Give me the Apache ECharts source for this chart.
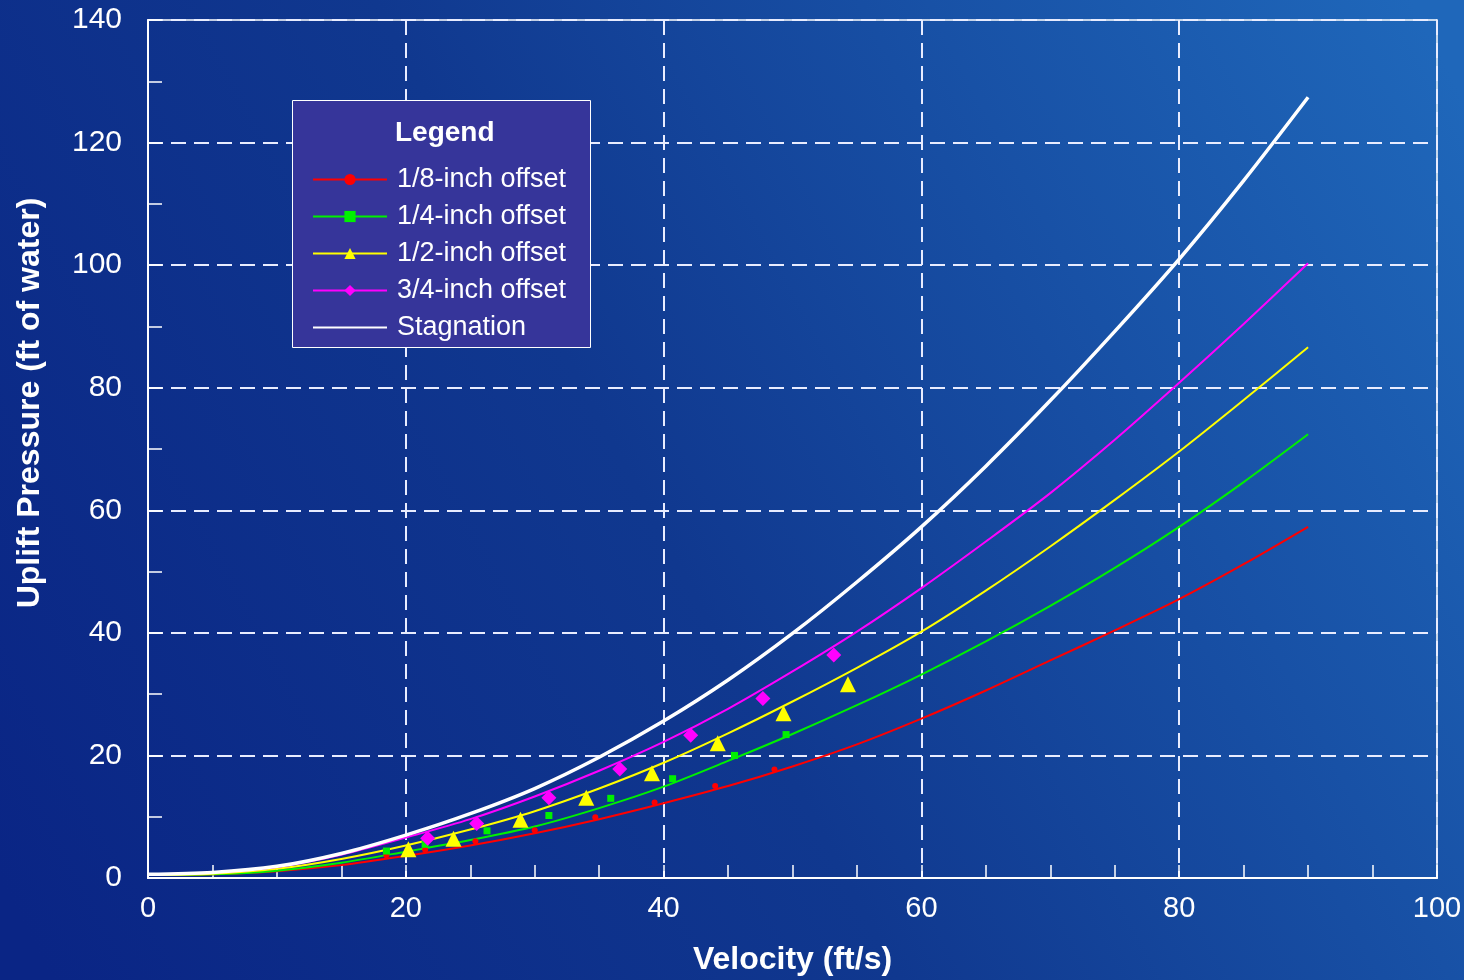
<!DOCTYPE html>
<html>
<head>
<meta charset="utf-8">
<title>Uplift Pressure vs Velocity</title>
<script src="https://cdn.jsdelivr.net/npm/echarts@6/dist/echarts.min.js"></script>
<style>
  html, body { margin: 0; padding: 0; }
  #chart { width: 1464px; height: 980px; }
</style>
</head>
<body>
<div id="chart"></div>
<script>
var velocity   = [0, 5, 10, 15, 20, 25, 30, 35, 40, 45, 50, 55, 60, 65, 70, 75, 80, 85, 90]
var calc8      = [0.5, 0.6, 1.1, 2.1, 3.6, 5.3, 7.3, 9.6, 12.2, 15.0, 18.2, 21.8, 26.0, 30.6, 35.5, 40.4, 45.5, 51.2, 57.3]
var calc4      = [0.5, 0.6, 1.2, 2.5, 4.3, 6.2, 8.4, 11.4, 14.9, 19.1, 23.5, 28.2, 33.2, 38.6, 44.4, 50.6, 57.3, 64.6, 72.4]
var calc2      = [0.5, 0.7, 1.5, 3.1, 5.3, 7.9, 10.9, 14.6, 18.8, 23.6, 28.8, 34.3, 40.2, 46.9, 54.1, 61.7, 69.6, 78.0, 86.6]
var calc34     = [0.6, 0.9, 1.8, 3.8, 6.6, 9.6, 13.3, 17.5, 22.2, 27.6, 33.7, 40.2, 47.3, 54.9, 62.8, 71.5, 80.8, 90.4, 100.3]
var stagnation = [0.6, 0.9, 1.9, 4.0, 7.0, 10.5, 14.6, 19.7, 25.6, 32.3, 39.9, 48.3, 57.3, 67.2, 77.9, 89.2, 101.0, 113.8, 127.4]

// measured points
var v8  = [18.5, 21.5, 25.4, 30.0, 34.7, 39.3, 44.0, 48.6]
var p8  = [3.7, 4.6, 6.0, 7.8, 9.9, 12.3, 15.0, 17.7]
var v4  = [18.5, 21.5, 26.3, 31.1, 35.9, 40.7, 45.5, 49.5]
var p4  = [4.4, 5.5, 7.7, 10.2, 13.0, 16.2, 20.0, 23.4]
var v2  = [20.2, 23.7, 28.9, 34.0, 39.1, 44.2, 49.3, 54.3]
var p2  = [4.7, 6.4, 9.5, 13.1, 17.1, 22.0, 26.9, 31.6]
var v34 = [21.7, 25.5, 31.1, 36.6, 42.1, 47.7, 53.2]
var p34 = [6.5, 8.9, 13.1, 17.8, 23.3, 29.3, 36.4]

var names = ['1/8-inch offset', '1/4-inch offset', '1/2-inch offset', '3/4-inch offset', 'Stagnation']
var colors = ['#ff0000', '#00f000', '#ffff00', '#ff00ff', '#ffffff']

var FONT = '"Liberation Sans", Arial, sans-serif'

function pairs(xs, ys) {
  return xs.map(function (x, i) { return [x, ys[i]] })
}

var myChart = echarts.init(document.getElementById('chart'))

var lineSeries = function (name, color, ys, symbol, width) {
  return {
    name: name,
    type: 'line',
    data: pairs(velocity, ys),
    smooth: 0.3,
    symbol: symbol,
    showSymbol: false,
    color: color,
    lineStyle: { color: color, width: width },
    z: 3
  }
}
var pointSeries = function (name, color, xs, ys, symbol, size) {
  return {
    name: name,
    type: 'scatter',
    data: pairs(xs, ys),
    symbol: symbol,
    symbolSize: size,
    itemStyle: { color: color, opacity: 1 },
    z: 4
  }
}

var option = {
  animation: false,
  backgroundColor: new echarts.graphic.LinearGradient(0, 0.9, 1, 0.1, [
    { offset: 0, color: '#0a2585' },
    { offset: 0.45, color: '#10388f' },
    { offset: 1, color: '#1f67ba' }
  ]),
  textStyle: { fontFamily: FONT },
  grid: {
    left: 148, right: 27, top: 20, bottom: 102,
    outerBoundsMode: 'none', containLabel: false,
    show: true, borderColor: '#ffffff', borderWidth: 1.5, backgroundColor: 'transparent'
  },
  graphic: [
    {
      type: 'rect', left: 292, top: 100, z: 10,
      shape: { width: 298, height: 247 },
      style: { fill: '#36359a', stroke: '#ffffff', lineWidth: 1 }
    },
    {
      type: 'text', left: 395, top: 119, z: 11,
      style: { text: 'Legend', fill: '#ffffff', font: 'bold 28px ' + FONT }
    }
  ],
  legend: {
    orient: 'vertical',
    left: 312, top: 166,
    padding: 0,
    itemWidth: 74, itemHeight: 14, itemGap: 10,
    z: 12,
    textStyle: { color: '#ffffff', fontSize: 27, fontFamily: FONT, padding: [0, 0, 0, 5] },
    data: [
      { name: names[0] },
      { name: names[1] },
      { name: names[2] },
      { name: names[3] },
      { name: names[4], itemStyle: { opacity: 0 } }
    ]
  },
  xAxis: {
    type: 'value', min: 0, max: 100, interval: 20,
    name: 'Velocity (ft/s)', nameLocation: 'middle', nameGap: 66,
    nameTextStyle: { color: '#ffffff', fontSize: 32, fontWeight: 'bold', fontFamily: FONT },
    axisLine: { lineStyle: { color: '#ffffff', width: 2 } },
    axisTick: { show: true, inside: true, length: 13, lineStyle: { color: '#ffffff', width: 1.5 } },
    minorTick: { show: true, splitNumber: 4, length: 13, lineStyle: { color: '#ffffff', width: 1.5 } },
    axisLabel: { color: '#ffffff', fontSize: 29, margin: 16, fontFamily: FONT },
    splitLine: { show: true, lineStyle: { color: '#e8ecff', width: 2, type: [15, 8] } }
  },
  yAxis: {
    type: 'value', min: 0, max: 140, interval: 20,
    name: 'Uplift Pressure (ft of water)', nameLocation: 'middle', nameGap: 102,
    nameTextStyle: { color: '#ffffff', fontSize: 32, fontWeight: 'bold', fontFamily: FONT, padding: [0, 0, 0, 92] },
    axisLine: { lineStyle: { color: '#ffffff', width: 2 } },
    axisTick: { show: true, inside: true, length: 14, lineStyle: { color: '#ffffff', width: 1.5 } },
    minorTick: { show: true, splitNumber: 2, length: 14, lineStyle: { color: '#ffffff', width: 1.5 } },
    axisLabel: { color: '#ffffff', fontSize: 30, margin: 26, fontFamily: FONT },
    splitLine: { show: true, lineStyle: { color: '#e8ecff', width: 2, type: [15, 8] } }
  },
  series: [
    lineSeries(names[0], colors[0], calc8, 'circle', 2),
    lineSeries(names[1], colors[1], calc4, 'rect', 2),
    lineSeries(names[2], colors[2], calc2, 'triangle', 2),
    lineSeries(names[3], colors[3], calc34, 'diamond', 2),
    lineSeries(names[4], colors[4], stagnation, 'none', 3.5),
    pointSeries(names[0], colors[0], v8, p8, 'circle', 6),
    pointSeries(names[1], colors[1], v4, p4, 'rect', 7),
    pointSeries(names[2], colors[2], v2, p2, 'triangle', 16),
    pointSeries(names[3], colors[3], v34, p34, 'diamond', 15)
  ]
}

myChart.setOption(option)
</script>
</body>
</html>
